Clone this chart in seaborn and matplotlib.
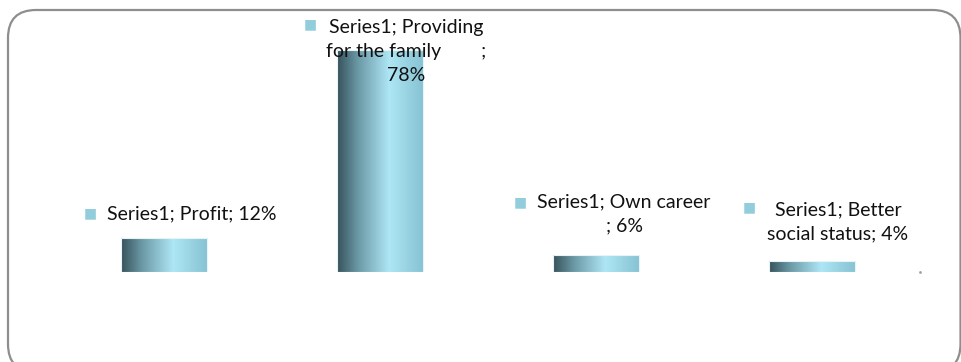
import numpy as np
import pandas as pd
import matplotlib
matplotlib.use("Agg")
import matplotlib.pyplot as plt
from matplotlib.colors import LinearSegmentedColormap
from matplotlib.patches import FancyBboxPatch
import seaborn as sns

# Data
categories = ["Profit", "Providing for the family", "Own career", "Better social status"]
values = [12, 78, 6, 4]
series_name = "Series1"
label_templates = [
    "{s}; Profit; {v}%",
    "{s}; Providing\nfor the family        ;\n{v}%",
    "{s}; Own career\n; {v}%",
    "{s}; Better\nsocial status; {v}%",
]

# Label placement (pixel offsets from bar top centre): text block, marker square
text_offsets = [(-57, 24), (26, -2), (28, 41), (26, 39)]
text_align = ["left", "center", "center", "center"]
marker_offsets = [(-74, 25), (-70, 25), (-76, 53), (-63, 53)]

sns.set_theme(style="white")
plt.rcParams["font.family"] = ["Lato", "DejaVu Sans"]

df = pd.DataFrame({"category": categories, "value": values})

fig = plt.figure(figsize=(9.61, 3.62), dpi=100)
ax = fig.add_axes([56 / 961, 90 / 362, 864 / 961, 256.5 / 362])

sns.barplot(data=df, x="category", y="value", width=0.4, ax=ax,
            color="#9bd6e6", edgecolor="#e6f4f8", linewidth=0.8)
ax.set_xlim(-0.5, len(categories) - 0.5)
ax.set_ylim(0, 90)

# Horizontal cylinder-like gradient inside each bar
grad_cmap = LinearSegmentedColormap.from_list(
    "cyl", [(0.0, "#36525c"), (0.25, "#6d9ba8"), (0.6, "#aee6f5"), (1.0, "#86c2d2")])
grad = np.linspace(0, 1, 256).reshape(1, -1)
for patch in ax.patches:
    x0, y0 = patch.get_x(), patch.get_y()
    w, h = patch.get_width(), patch.get_height()
    im = ax.imshow(grad, cmap=grad_cmap, aspect="auto",
                   extent=(x0, x0 + w, y0, y0 + h), zorder=patch.get_zorder() + 0.1)
    im.set_clip_path(patch)
    patch.set_facecolor("none")
    patch.set_zorder(patch.get_zorder() + 0.2)
ax.set_xlim(-0.5, len(categories) - 0.5)
ax.set_ylim(0, 90)

# Data labels with legend-key squares
for i, (tmpl, v) in enumerate(zip(label_templates, values)):
    dx, dy = text_offsets[i]
    ax.annotate(tmpl.format(s=series_name, v=v), xy=(i, v), xytext=(dx, dy),
                textcoords="offset pixels", ha=text_align[i], va="center",
                multialignment="center", fontsize=14, color="#111111",
                linespacing=1.5, annotation_clip=False)
    mx, my = marker_offsets[i]
    ax.annotate("■", xy=(i, v), xytext=(mx, my), textcoords="offset pixels",
                ha="center", va="center", fontsize=10, color="#92cddc",
                family="DejaVu Sans", annotation_clip=False)

# Tiny end mark on the category axis
ax.plot([1.0], [0.0], transform=ax.transAxes, marker="s", ms=0.9,
        color="#a0a0a0", clip_on=False)

ax.set_axis_off()

# Rounded chart-area border (right and bottom edges run to the figure edge)
frame = FancyBboxPatch((0.08, -0.1), 9.525, 3.62,
                       boxstyle="round,pad=0,rounding_size=0.28",
                       transform=fig.dpi_scale_trans, facecolor="none",
                       edgecolor="#8e8e8e", linewidth=1.6, clip_on=False)
fig.patches.append(frame)

fig.savefig("out.png", dpi=100, facecolor="white")
